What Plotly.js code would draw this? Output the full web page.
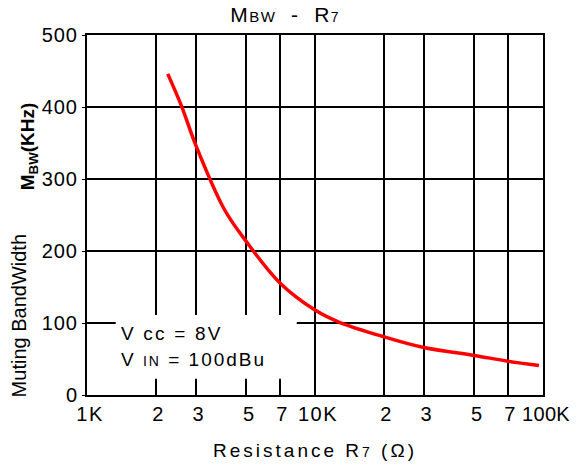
<!DOCTYPE html>
<html>
<head>
<meta charset="utf-8">
<script src="https://cdn.plot.ly/plotly-3.0.1.min.js"></script>
<style>html,body{margin:0;padding:0;background:#fff;}</style>
</head>
<body>
<div id="chart" style="width:582px;height:466px;"></div>
<script>
// Data
var resistanceOhm = [2260, 2600, 3000, 4000, 5000, 7000, 10000, 12800, 20000, 30000, 50000, 70000, 96000];
var mutingBandwidthKHz = [446, 401, 347, 258, 213, 156, 118, 101, 81, 66, 55, 47, 41];
var xTickVals = [1000, 2000, 3000, 5000, 7000, 10000, 20000, 30000, 50000, 70000, 100000];
var xTickText = ["1K", "2", "3", "5", "7", "10K", "2", "3", "5", "7", "100K"];
var yTickVals = [0, 100, 200, 300, 400, 500];

var FONT = "Liberation Sans, Arial, sans-serif";
var ls = function (t, sp) { return "<span style='letter-spacing:" + sp + "px'>" + t + "</span>"; };

var trace = {
  x: resistanceOhm,
  y: mutingBandwidthKHz,
  mode: "lines",
  line: {color: "#ff0000", width: 3.5, shape: "spline", smoothing: 1},
  hoverinfo: "none",
  showlegend: false
};

var layout = {
  width: 582, height: 466,
  margin: {l: 87, r: 39, t: 35, b: 71},
  paper_bgcolor: "#ffffff",
  plot_bgcolor: "#ffffff",
  font: {family: FONT, color: "#000", size: 20},
  title: {
    text: ls("M<span style='font-size:15px'>BW</span>  -  R<span style='font-size:14px'>7</span>", 1.5),
    font: {family: FONT, size: 21, color: "#000"},
    x: 0.49, xanchor: "center", xref: "container",
    y: 0.968, yanchor: "middle", yref: "container"
  },
  xaxis: {
    type: "log",
    range: [3, 5],
    tickvals: xTickVals,
    ticktext: xTickText.map(function (t) { return ls(t, t.length > 3 ? 0.3 : 1.5); }),
    tickfont: {family: FONT, size: 20, color: "#000"},
    tickangle: 0,
    ticklabeloverflow: "allow",
    ticklabelshift: 3,
    showgrid: true, gridcolor: "#000", gridwidth: 2,
    showline: true, linecolor: "#000", linewidth: 2, mirror: true,
    ticks: "", zeroline: false,
    title: {
      text: ls("Resistance R<span style='font-size:14px'>7</span> (Ω)", 3),
      font: {family: FONT, size: 19, color: "#000"},
      standoff: 20
    }
  },
  yaxis: {
    range: [0, 500],
    tickvals: yTickVals,
    ticktext: yTickVals.map(function (v) { return ls(String(v), 1); }),
    tickfont: {family: FONT, size: 20, color: "#000"},
    showgrid: true, gridcolor: "#000", gridwidth: 2,
    showline: true, linecolor: "#000", linewidth: 2, mirror: true,
    ticks: "outside", ticklen: 3, tickwidth: 1, tickcolor: "#000",
    zeroline: false
  },
  shapes: [{
    type: "rect", xref: "paper", yref: "paper",
    x0: 0.063, x1: 0.46, y0: 0.045, y1: 0.222,
    fillcolor: "#ffffff", line: {width: 0}, layer: "above"
  }],
  annotations: [
    {
      xref: "paper", yref: "paper", x: 0.07, y: 0.17, xanchor: "left", yanchor: "middle",
      text: ls("V cc = 8V", 2.2),
      showarrow: false, font: {family: FONT, size: 19, color: "#000"}
    },
    {
      xref: "paper", yref: "paper", x: 0.07, y: 0.098, xanchor: "left", yanchor: "middle",
      text: ls("V <span style='font-size:14px'>IN</span> = 100dBu", 2),
      showarrow: false, font: {family: FONT, size: 19, color: "#000"}
    },
    {
      xref: "paper", yref: "paper", x: -0.15, y: 0.22, xanchor: "center", yanchor: "middle",
      text: "Muting BandWidth", textangle: -90,
      showarrow: false, font: {family: FONT, size: 20, color: "#000"}
    },
    {
      xref: "paper", yref: "paper", x: -0.128, y: 0.69, xanchor: "center", yanchor: "middle",
      text: "<b>M<sub>BW</sub>(KHz)</b>", textangle: -90,
      showarrow: false, font: {family: FONT, size: 19, color: "#000"}
    }
  ]
};

Plotly.newPlot("chart", [trace], layout, {staticPlot: true, displayModeBar: false});
</script>
</body>
</html>
